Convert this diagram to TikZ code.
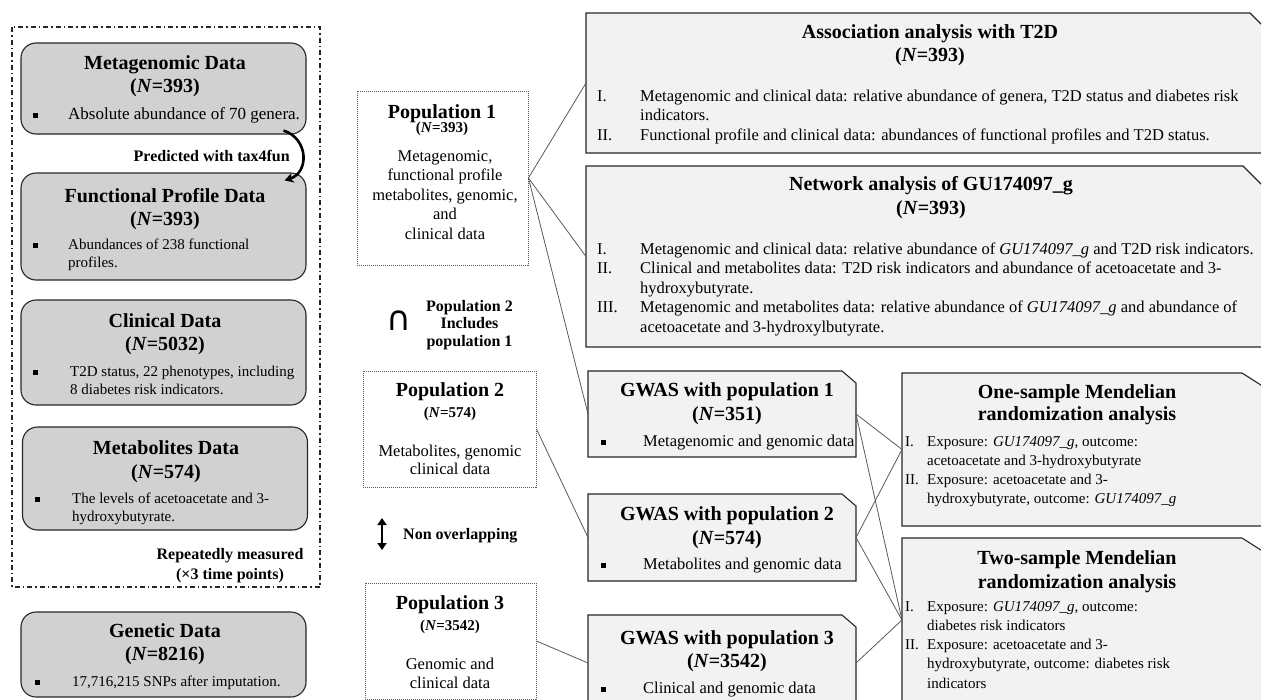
\documentclass[tikz,border=0pt]{standalone}
\usepackage{fontspec}
\setmainfont{Liberation Serif}
\newfontfamily\symbolfont{DejaVu Sans}
\usetikzlibrary{
    arrows.meta
}
\tikzset{
    % Colors
    data fill/.style={fill=black!18},
    analysis fill/.style={fill=black!5},
    %
    % Boxes
    data box/.style={draw=black!85, line width=1.1pt, data fill, rounded corners=15pt, minimum width=285pt, inner sep=0pt},
    pop box/.style={draw=black!65, line width=0.9pt, dash pattern=on 1pt off 1pt, fill=white, inner sep=0pt},
    analysis box/.style={rectangle, inner sep=0pt, outer sep=0pt},
    snip line/.style={draw=black!85, line width=1.1pt, analysis fill},
    %
    % Texts
    big title/.style={font=\fontsize{20}{23}\selectfont\bfseries, align=center, anchor=base, inner sep=0pt},
    small title/.style={font=\fontsize{15}{18}\selectfont\bfseries, align=center, anchor=base, inner sep=0pt},
    note/.style={font=\fontsize{16}{17.5}\selectfont\bfseries, inner sep=0pt},
    pop text/.style={font=\fontsize{16.5}{19.5}\selectfont, align=center, anchor=base, inner sep=0pt},
    item text/.style={font=\fontsize{15}{18}\selectfont, anchor=base west, inner sep=0pt},
    list text/.style={font=\fontsize{16.5}{19.5}\selectfont, anchor=base west, inner sep=0pt},
    mr text/.style={font=\fontsize{15}{19.3}\selectfont, anchor=base west, inner sep=0pt},
    %
    % Arrows and lines
    link/.style={draw=black!65, line width=0.8pt},
    bend arrow/.style={-{Stealth[length=9pt,width=10pt]}, line width=2.6pt},
    both arrow/.style={{Triangle[length=7pt,width=9pt]}-{Triangle[length=7pt,width=9pt]}, line width=2.4pt}
}
\newcommand{\sqbullet}{\rule[1.5pt]{5pt}{5pt}}

\begin{document}
\begin{tikzpicture}[x=1pt,y=-1pt]
    \useasboundingbox (0,0) rectangle (1261,699);

    % data sources
    \draw[black!85, line width=1.1pt, dash pattern=on 5pt off 3pt on 1.5pt off 3pt] (12,27) rectangle (320,587);

    \node[data box, minimum height=91pt] (meta) at (163.5,88.5) {};
    \node[big title] (meta title) at (165,92) {Metagenomic Data\\(\textit{N}=393)};
    \node[item text, font=\fontsize{17}{18}\selectfont] (meta item) at (32.5,119) {\begin{tabular}[t]{@{}p{35.5pt}@{}l@{}}\sqbullet & Absolute abundance of 70 genera.\end{tabular}};

    \node[data box, minimum height=107pt] (func) at (163.5,226.5) {};
    \node[big title] (func title) at (165,225) {Functional Profile Data\\(\textit{N}=393)};
    \node[item text] (func item) at (32.5,249) {\begin{tabular}[t]{@{}p{35.5pt}@{}l@{}}\sqbullet & Abundances of 238 functional\\ & profiles.\end{tabular}};

    \node[data box, minimum height=105pt] (clin) at (163.5,352.5) {};
    \node[big title] (clin title) at (165,350) {Clinical Data\\(\textit{N}=5032)};
    \node[item text] (clin item) at (32.5,376) {\begin{tabular}[t]{@{}p{37.5pt}@{}l@{}}\sqbullet & T2D status, 22 phenotypes, including\\ & 8 diabetes risk indicators.\end{tabular}};

    \node[data box, minimum height=103pt] (metab) at (165,478.5) {};
    \node[big title, font=\fontsize{20}{24}\selectfont\bfseries] (metab title) at (166,478) {Metabolites Data\\(\textit{N}=574)};
    \node[item text] (metab item) at (34.5,503) {\begin{tabular}[t]{@{}p{37.5pt}@{}l@{}}\sqbullet & The levels of acetoacetate and 3-\\ & hydroxybutyrate.\end{tabular}};

    \node[data box, minimum height=85pt] (gen) at (163.5,654.5) {};
    \node[big title] (gen title) at (165,660) {Genetic Data\\(\textit{N}=8216)};
    \node[item text] (gen item) at (34.5,686) {\begin{tabular}[t]{@{}p{37.5pt}@{}l@{}}\sqbullet & 17,716,215 SNPs after imputation.\end{tabular}};

    \draw[bend arrow] ([shift={(-23pt,4pt)}]meta.south east) .. controls +(25,8) and +(25,-8) .. ([shift={(-22pt,-8pt)}]func.north east);
    \node[note, anchor=base east] (tax4fun) at (290,161) {Predicted with tax4fun};
    \node[note, align=center, anchor=base, font=\fontsize{16}{20}\selectfont\bfseries] (repeated) at (230,579) {Repeatedly measured\\(×3 time points)};

    % populations
    \node[pop box, minimum width=171pt, minimum height=174pt] (pop1) at (442.5,178) {};
    \node[big title] (pop1 title) at (442,118) {Population 1};
    \node[small title] (pop1 size) at (442,132) {(\textit{N}=393)};
    \node[pop text] (pop1 text) at (445,239) {Metagenomic,\\functional profile\\metabolites, genomic,\\and\\clinical data};

    \node[font=\symbolfont\fontsize{34}{34}\selectfont, inner sep=0pt] (subset) at (399,321) {∩};
    \node[note, align=center, anchor=base] (subset text) at (469.5,346) {Population 2\\Includes\\population 1};

    \node[pop box, minimum width=173pt, minimum height=116pt] (pop2) at (449.5,429) {};
    \node[big title] (pop2 title) at (450,396) {Population 2};
    \node[small title] (pop2 size) at (450,417) {(\textit{N}=574)};
    \node[pop text, font=\fontsize{16.5}{18.5}\selectfont] (pop2 text) at (450,474.5) {Metabolites, genomic\\clinical data};

    \coordinate (gap top) at (382,518);
    \coordinate (gap bottom) at (382,550);
    \draw[both arrow] (gap top) -- (gap bottom);
    \node[note, anchor=base west] (gap text) at (403,539) {Non overlapping};

    \node[pop box, minimum width=171pt, minimum height=116pt] (pop3) at (450.5,641) {};
    \node[big title] (pop3 title) at (450,609) {Population 3};
    \node[small title] (pop3 size) at (450,630) {(\textit{N}=3542)};
    \node[pop text] (pop3 text) at (450,688.5) {Genomic and\\clinical data};

    % analysis boxes, outlines with a snipped corner
    \node[analysis box, minimum width=268pt, minimum height=86pt] (gw1) at (722,414) {};
    \node[analysis box, minimum width=268pt, minimum height=87pt] (gw2) at (722,537.5) {};
    \node[analysis box, minimum width=268pt, minimum height=96pt] (gw3) at (722,663) {};
    \node[analysis box, minimum width=690pt, minimum height=140pt] (assoc) at (931,83) {};
    \node[analysis box, minimum width=690pt, minimum height=181pt] (net) at (931,256.5) {};
    \node[analysis box, minimum width=373pt, minimum height=153pt] (one) at (1088.5,449.5) {};
    \node[analysis box, minimum width=373pt, minimum height=164pt] (two) at (1088.5,620) {};
    \foreach \b/\cx/\cy in {gw1/14/12, gw2/14/12, gw3/14/12, assoc/26/26, net/33/33, one/33/21, two/33/21}
        \path[snip line] (\b.south west) -- (\b.north west) -- ([xshift=-\cx pt]\b.north east) -- ([yshift=-\cy pt]\b.north east) -- (\b.south east) -- cycle;

    % GWAS
    \node[big title, font=\fontsize{20}{24}\selectfont\bfseries] (gw1 title) at (727,420) {GWAS with population 1\\(\textit{N}=351)};
    \node[list text] (gw1 item) at (600.5,446) {\begin{tabular}[t]{@{}p{42.5pt}@{}l@{}}\sqbullet & Metagenomic and genomic data\end{tabular}};

    \node[big title, font=\fontsize{20}{24}\selectfont\bfseries] (gw2 title) at (727,544) {GWAS with population 2\\(\textit{N}=574)};
    \node[list text] (gw2 item) at (600.5,569) {\begin{tabular}[t]{@{}p{42.5pt}@{}l@{}}\sqbullet & Metabolites and genomic data\end{tabular}};

    \node[big title] (gw3 title) at (727,667) {GWAS with population 3\\(\textit{N}=3542)};
    \node[list text] (gw3 item) at (600.5,693) {\begin{tabular}[t]{@{}p{42.5pt}@{}l@{}}\sqbullet & Clinical and genomic data\end{tabular}};

    % analyses
    \node[big title] (assoc title) at (930,61) {Association analysis with T2D\\(\textit{N}=393)};
    \node[list text] (assoc items) at (597,101) {\begin{tabular}[t]{@{}p{43pt}@{}l@{}}
        I. & Metagenomic and clinical data: relative abundance of genera, T2D status and diabetes risk\\
           & indicators.\\
        II. & Functional profile and clinical data: abundances of functional profiles and T2D status.
    \end{tabular}};

    \node[big title, font=\fontsize{20}{24}\selectfont\bfseries] (net title) at (931,214) {Network analysis of GU174097\_g\\(\textit{N}=393)};
    \node[list text] (net items) at (597,254) {\begin{tabular}[t]{@{}p{43pt}@{}l@{}}
        I. & Metagenomic and clinical data: relative abundance of \textit{GU174097\_g} and T2D risk indicators.\\
        II. & Clinical and metabolites data: T2D risk indicators and abundance of acetoacetate and 3-\\
            & hydroxybutyrate.\\
        III. & Metagenomic and metabolites data: relative abundance of \textit{GU174097\_g} and abundance of\\
             & acetoacetate and 3-hydroxylbutyrate.
    \end{tabular}};

    \node[big title, font=\fontsize{20}{22}\selectfont\bfseries] (one title) at (1077,420) {One-sample Mendelian\\randomization analysis};
    \node[mr text] (one items) at (905,446) {\begin{tabular}[t]{@{}p{22pt}@{}l@{}}
        I. & Exposure: \textit{GU174097\_g}, outcome:\\
           & acetoacetate and 3-hydroxybutyrate\\
        II. & Exposure: acetoacetate and 3-\\
            & hydroxybutyrate, outcome: \textit{GU174097\_g}
    \end{tabular}};

    \node[big title, font=\fontsize{20}{24}\selectfont\bfseries] (two title) at (1077,588) {Two-sample Mendelian\\randomization analysis};
    \node[mr text] (two items) at (905,611) {\begin{tabular}[t]{@{}p{22pt}@{}l@{}}
        I. & Exposure: \textit{GU174097\_g}, outcome:\\
           & diabetes risk indicators\\
        II. & Exposure: acetoacetate and 3-\\
            & hydroxybutyrate, outcome: diabetes risk\\
            & indicators
    \end{tabular}};

    % links
    \draw[link] (pop1.east) -- (assoc.west);
    \draw[link] (pop1.east) -- (net.west);
    \draw[link] (pop1.east) -- (gw1.west);
    \draw[link] (pop2.east) -- (gw2.west);
    \draw[link] (pop3.east) -- (gw3.west);
    \draw[link] (gw1.east) -- (one.west);
    \draw[link] (gw1.east) -- (two.west);
    \draw[link] (gw2.east) -- (one.west);
    \draw[link] (gw2.east) -- (two.west);
    \draw[link] (gw3.east) -- (two.west);
\end{tikzpicture}
\end{document}
